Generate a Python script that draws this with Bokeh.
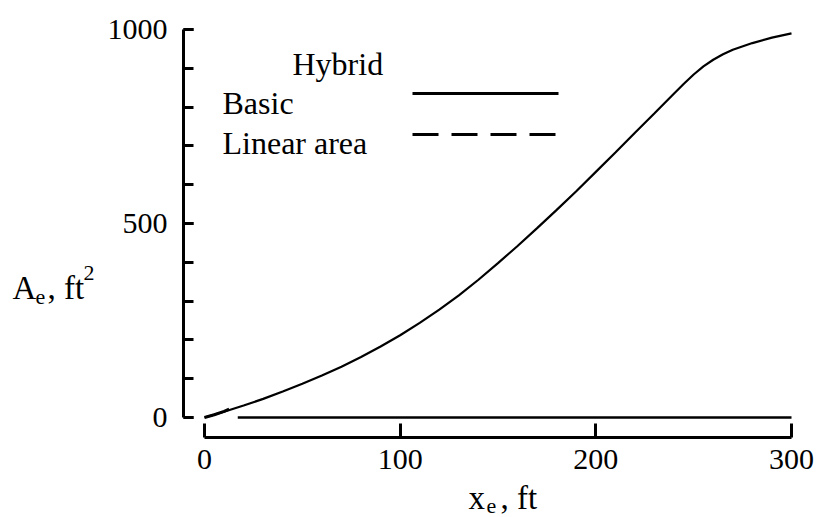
from bokeh.plotting import figure
from bokeh.models import Range1d, SingleIntervalTicker, FixedTicker, Label
from bokeh.embed import file_html
from bokeh.resources import INLINE

# Equivalent area distribution along the body, hybrid configuration
x_basic = [0, 10, 20, 30, 40, 50, 60, 70, 80, 90, 100, 110, 120, 130, 140, 150, 160, 170, 180, 190,
           200, 210, 220, 230, 240, 245, 250, 255, 260, 265, 270, 280, 290, 300]
a_basic = [0, 15, 31, 48, 67, 87, 108, 131, 156, 183, 212, 244, 278, 315, 355, 398, 442, 488, 535, 583,
           633, 683, 734, 784, 835, 860, 884, 905, 922, 936, 948, 965, 979, 990]

x_linear = [0, 5, 10, 16]
a_linear = [0, 7, 16, 29]

x_zero = [17, 300]
a_zero = [0, 0]

x_ticks = [0, 100, 200, 300]

FONT = "Liberation Serif"

W, H = 819, 517
Y_AXIS_PX, X_AXIS_PX = 183, 437                  # where the two axes are drawn
X0_PX, X300_PX = 204, 791                        # where x = 0 and x = 300 fall
A0_PX, A1000_PX = 417, 29                        # where A = 0 and A = 1000 fall

sx = (X300_PX - X0_PX) / 300.0
sy = (A0_PX - A1000_PX) / 1000.0


def dx(px):
    return (px - X0_PX) / sx


def dy(py):
    return (A0_PX - py) / sy


# the frame fills the canvas; the axes sit at fixed positions inside it
p = figure(width=W, height=H, output_backend="svg", toolbar_location=None,
           x_range=Range1d(dx(0), dx(W)), y_range=Range1d(dy(H), dy(0)),
           min_border=0, background_fill_color="white", border_fill_color="white")
p.outline_line_color = None
p.grid.visible = False

# y axis: labelled every 500, inward ticks every 100
ya = p.yaxis[0]
ya.fixed_location = dx(Y_AXIS_PX)
ya.ticker = SingleIntervalTicker(interval=500, num_minor_ticks=5)
ya.bounds = (0, 1000)
ya.axis_line_width = 3
ya.major_tick_line_width = 3
ya.minor_tick_line_width = 3
ya.major_tick_in = 10
ya.major_tick_out = 0
ya.minor_tick_in = 10
ya.minor_tick_out = 0
ya.major_label_standoff = 16
ya.minor_tick_line_color = "black"

# x axis: detached below the data, inward ticks
xa = p.xaxis[0]
xa.fixed_location = dy(X_AXIS_PX)
xa.ticker = FixedTicker(ticks=x_ticks)
xa.bounds = (0, 300)
xa.axis_line_width = 3
xa.major_tick_line_width = 3
xa.major_tick_in = 14
xa.major_tick_out = 0
xa.minor_tick_line_color = None
xa.major_label_standoff = 12

for ax in (xa, ya):
    ax.major_label_text_font = FONT
    ax.major_label_text_font_size = "30px"
    ax.major_label_text_color = "black"
    ax.axis_line_color = "black"
    ax.major_tick_line_color = "black"

# curves
p.line(x_basic, a_basic, line_color="black", line_width=2.2)
p.line(x_linear, a_linear, line_color="black", line_width=3, line_dash="26 13")
p.line(x_zero, a_zero, line_color="black", line_width=2.5)

# key
p.line([dx(412), dx(558)], [dy(93), dy(93)], line_color="black", line_width=3)
p.line([dx(412), dx(560)], [dy(134), dy(134)], line_color="black", line_width=3, line_dash="26 13")


def text(px, py, s, size):
    p.add_layout(Label(x=dx(px), y=dy(py), text=s, text_font=FONT,
                       text_font_size=size, text_color="black",
                       text_baseline="alphabetic", text_align="left"))


text(292, 63, "Hybrid", "32px")
text(222, 102, "Basic", "32px")
text(222, 142, "Linear area", "32px")

# axis titles with sub/superscripts
text(12, 287, "A", "33px")
text(35, 296, "e", "22px")
text(47, 287, ", ft", "33px")
text(83, 272, "2", "22px")

text(468, 497, "x", "33px")
text(486, 505, "e", "22px")
text(500, 497, ", ft", "33px")

open("out.html", "w").write(file_html(p, INLINE))
